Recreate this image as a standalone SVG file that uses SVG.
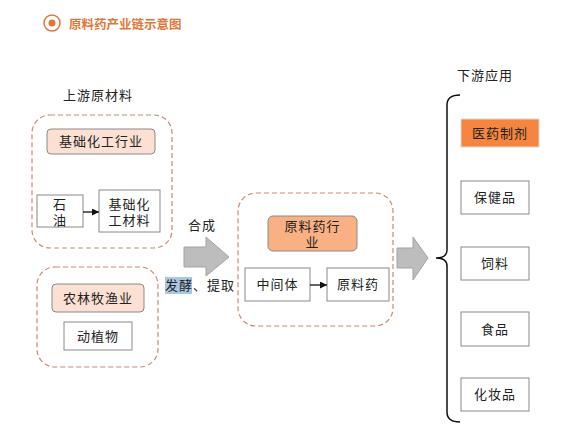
<svg xmlns="http://www.w3.org/2000/svg" width="575" height="446" viewBox="0 0 575 446">
<style>
text{font-family:"Liberation Serif","Noto Sans CJK SC",serif;font-size:13px;fill:#222;text-anchor:middle;dominant-baseline:central;letter-spacing:1px}
.group{fill:none;stroke:#c98a70;stroke-width:1.2;stroke-dasharray:5,3}
.box{fill:#fff;stroke:#8a8a8a;stroke-width:1}
.peach{fill:#fbe0d3;stroke:#8a8a8a;stroke-width:1}
.big{fill:#bdbdbd;stroke:#a3a3a3;stroke-width:1}
.link{stroke:#111;stroke-width:1.3;fill:none}
.title{font-family:"Noto Sans CJK SC",sans-serif;font-size:12.5px;font-weight:bold;fill:#e0773a;text-anchor:start;letter-spacing:0}
</style>
<defs>
<marker id="ah" viewBox="0 0 10 10" refX="10" refY="5" markerWidth="7" markerHeight="7" orient="auto" markerUnits="userSpaceOnUse">
<path d="M0,0 L10,5 L0,10 z" fill="#111"/>
</marker>
</defs>
<rect width="575" height="446" fill="#fff"/>
<g id="title">
<circle cx="52" cy="23" r="8" fill="none" stroke="#e0773a" stroke-width="1.5"/>
<circle cx="52" cy="23" r="3.5" fill="#e0773a"/>
<text class="title" x="69" y="23">原料药产业链示意图</text>
</g>
<g id="labels">
<text x="98" y="95">上游原材料</text>
<text x="485" y="75">下游应用</text>
<text x="202" y="225">合成</text>
<rect x="165" y="277" width="27" height="17" fill="#a9c7de"/>
<text x="200" y="285">发酵、提取</text>
</g>
<g id="upstream-chem">
<rect class="group" x="32" y="115" width="140" height="133" rx="18"/>
</g>
<g id="upstream-agri">
<rect class="group" x="37" y="267" width="121" height="100" rx="18"/>
</g>
<g id="api-group">
<rect class="group" x="238" y="193" width="155" height="133" rx="18"/>
</g>
<g id="chem-industry">
<rect class="peach" x="47" y="129" width="108" height="25" rx="4"/>
<text x="101" y="141.5">基础化工行业</text>
</g>
<g id="petroleum">
<rect class="box" x="37" y="195" width="46" height="32"/>
<text x="60" y="204">石</text>
<text x="60" y="220">油</text>
</g>
<g id="chem-material">
<rect class="box" x="99" y="190" width="61" height="42"/>
<text x="129.5" y="204">基础化</text>
<text x="129.5" y="220">工材料</text>
</g>
<g id="agri">
<rect class="peach" x="52" y="284" width="92" height="28" rx="4"/>
<text x="98" y="298">农林牧渔业</text>
</g>
<g id="plants">
<rect class="box" x="64" y="322" width="68" height="28"/>
<text x="98" y="336">动植物</text>
</g>
<g id="api-industry">
<rect x="268" y="216" width="89" height="35" rx="5" fill="#f9b183" stroke="#8a8a8a" stroke-width="1"/>
<text x="312.5" y="226">原料药行</text>
<text x="312.5" y="242">业</text>
</g>
<g id="intermediate">
<rect class="box" x="245" y="268" width="65" height="33"/>
<text x="277.5" y="284.5">中间体</text>
</g>
<g id="api">
<rect class="box" x="327" y="268" width="62" height="33"/>
<text x="358" y="284.5">原料药</text>
</g>
<g id="pharma">
<rect x="461" y="119" width="78" height="28" fill="#f5853f" stroke="#d9d9d9" stroke-width="1"/>
<text x="500" y="133">医药制剂</text>
</g>
<g id="health">
<rect class="box" x="461" y="181" width="68" height="33"/>
<text x="495" y="197.5">保健品</text>
</g>
<g id="feed">
<rect class="box" x="461" y="247" width="68" height="33"/>
<text x="495" y="263.5">饲料</text>
</g>
<g id="food">
<rect class="box" x="461" y="312" width="68" height="34"/>
<text x="495" y="329">食品</text>
</g>
<g id="cosmetics">
<rect class="box" x="461" y="378" width="68" height="33"/>
<text x="495" y="394.5">化妆品</text>
</g>
<g id="connectors">
<line class="link" x1="83" y1="212" x2="99" y2="212" marker-end="url(#ah)"/>
<line class="link" x1="310" y1="285" x2="327" y2="285" marker-end="url(#ah)"/>
<polygon class="big" points="184,247 206,247 206,237 229,257 206,276 206,267 184,267"/>
<polygon class="big" points="397,248 413,248 413,237 428,258 413,280 413,268 397,268"/>
<path d="M460,95 Q447,95 447,105 L447,250 Q447,258 436,258 Q447,258 447,266 L447,412 Q447,422 460,422" fill="none" stroke="#111" stroke-width="1.5"/>
</g>
</svg>
